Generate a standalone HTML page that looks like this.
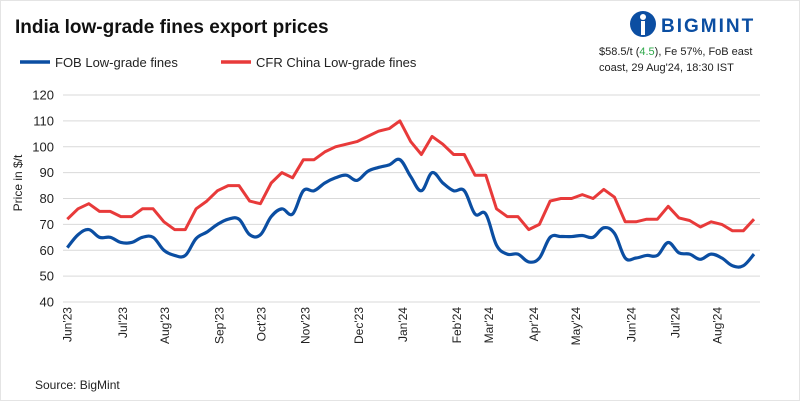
<!DOCTYPE html>
<html><head><meta charset="utf-8"><style>
body{margin:0;background:#fff;font-family:"Liberation Sans",sans-serif;}
#wrap{position:relative;width:800px;height:401px;overflow:hidden;background:#fff;}
</style></head><body>
<div id="wrap">
<svg id="chart" width="800" height="401" xmlns="http://www.w3.org/2000/svg" font-family="Liberation Sans, sans-serif">
  <rect x="0.5" y="0.5" width="799" height="400" fill="#fff" stroke="#e4e4e4"/>
  <text x="15" y="33" font-size="19" font-weight="bold" fill="#111">India low-grade fines export prices</text>
  <g>
    <line x1="20" y1="62" x2="50" y2="62" stroke="#0b4ea2" stroke-width="3.5"/>
    <text x="55" y="67" font-size="13" fill="#222">FOB Low-grade fines</text>
    <line x1="221" y1="62" x2="251" y2="62" stroke="#e83a3a" stroke-width="3.5"/>
    <text x="256" y="67" font-size="13" fill="#222">CFR China Low-grade fines</text>
  </g>
  <g>
    <circle cx="643" cy="24" r="13" fill="#0b4ea2"/>
    <circle cx="643" cy="17" r="3" fill="#fff"/>
    <rect x="641" y="21" width="4" height="14" fill="#fff"/>
    <text x="661" y="32" font-size="19" font-weight="bold" fill="#0b4ea2" letter-spacing="2">BIGMINT</text>
  </g>
  <text x="599" y="55" font-size="11" fill="#222">$58.5/t (<tspan fill="#2ea84a">4.5</tspan>), Fe 57%, FoB east</text>
  <text x="599" y="71" font-size="11" fill="#222">coast, 29 Aug'24, 18:30 IST</text>
  <text transform="translate(22,183) rotate(-90)" text-anchor="middle" font-size="12" fill="#222">Price in $/t</text>
  <g id="grid"></g><g id="ylabels"></g><g id="xlabels"></g><g id="series"></g>
  <text x="35" y="389" font-size="12" fill="#222">Source: BigMint</text>
</svg>
</div>
<script>
const yTicks=[40,50,60,70,80,90,100,110,120];
const xTickLabels=["Jun'23","Jul'23","Aug'23","Sep'23","Oct'23","Nov'23","Dec'23","Jan'24","Feb'24","Mar'24","Apr'24","May'24","Jun'24","Jul'24","Aug'24"];
const xTickIndex=[0,5.2,9.1,14.2,18.1,22.2,27.2,31.3,36.3,39.3,43.5,47.4,52.6,56.7,60.6];
const cfrValues=[72,76,78,75,75,73,73,76,76,71,68,68,76,79,83,85,85,79,78,86,90,88,95,95,98,100,101,102,104,106,107,110,102,97,104,101,97,97,89,89,76,73,73,68,70,79,80,80,81.5,80,83.5,80.5,71,71,72,72,77,72.5,71.5,69,71,70,67.5,67.5,72];
const fobValues=[61,66,68,65,65,63,63,65,65,60,58,58,64.5,67,70,72,72,66,66,73,76,74,83,83,86,88,89,87,90.5,92,93,95,88.5,83,90,86,83,83,74,74,62,58.5,58.5,55.5,57,65,65.3,65.3,65.7,65,68.7,66.5,57,57,58,58,63,59,58.5,56.5,58.5,57,54,54,58.5];
const NS="http://www.w3.org/2000/svg";
const x0=67.3,x1=754,y0=302,y1=95,vmin=40,vmax=120;
const n=cfrValues.length;
const xs=i=>x0+(x1-x0)*i/(n-1);
const ys=v=>y0-(v-vmin)/(vmax-vmin)*(y0-y1);
function mk(t,a,p){const e=document.createElementNS(NS,t);for(const k in a)e.setAttribute(k,a[k]);p.appendChild(e);return e;}
const grid=document.getElementById('grid'),yl=document.getElementById('ylabels'),xl=document.getElementById('xlabels'),se=document.getElementById('series');
yTicks.forEach(v=>{
  const l=mk('line',{x1:63,x2:760,y1:ys(v),y2:ys(v),stroke:'#d9d9d9','stroke-width':1},grid);
  
  
  const t=mk('text',{x:54,y:ys(v)+4.5,'text-anchor':'end','font-size':13,fill:'#222'},yl);
  t.textContent=v;
  
  
});
xTickLabels.forEach((s,i)=>{
  const x=xs(xTickIndex[i]);
  const t=mk('text',{transform:`translate(${x+4},307) rotate(-90)`,'text-anchor':'end','font-size':12,fill:'#222'},xl);
  t.textContent=s;
  
  
});
function linePath(vals){return vals.map((v,i)=>(i?'L':'M')+xs(i).toFixed(1)+','+ys(v).toFixed(1)).join('');}
function smoothPath(vals){
  const p=vals.map((v,i)=>[xs(i),ys(v)]);let d='M'+p[0][0]+','+p[0][1];
  for(let i=0;i<p.length-1;i++){
    const a=p[i-1]||p[i],b=p[i],c=p[i+1],e=p[i+2]||c,k=0.18;
    d+=`C${b[0]+(c[0]-a[0])*k},${b[1]+(c[1]-a[1])*k} ${c[0]-(e[0]-b[0])*k},${c[1]-(e[1]-b[1])*k} ${c[0]},${c[1]}`;
  }return d;}
const fob=mk('path',{d:smoothPath(fobValues),fill:'none',stroke:'#0b4ea2','stroke-width':3.2,'stroke-linejoin':'round'},se);


const cfr=mk('path',{d:linePath(cfrValues),fill:'none',stroke:'#e83a3a','stroke-width':3,'stroke-linejoin':'round'},se);


</script>
</body></html>
